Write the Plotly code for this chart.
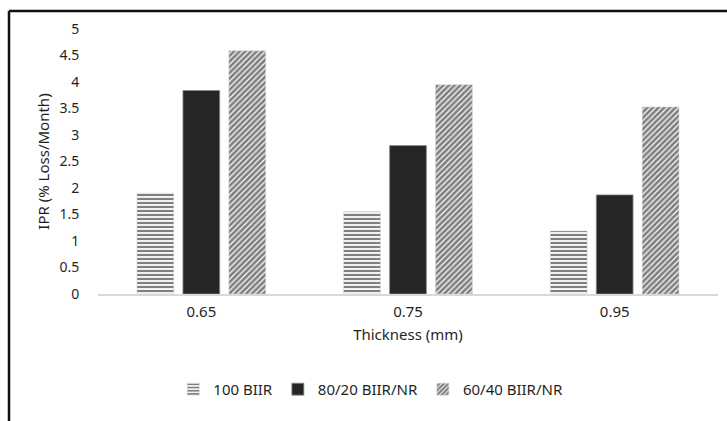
import plotly.graph_objects as go

categories = ["0.65", "0.75", "0.95"]
series_names = ["100 BIIR", "80/20 BIIR/NR", "60/40 BIIR/NR"]
biir100 = [1.90, 1.55, 1.19]
biir80_nr20 = [3.84, 2.80, 1.87]
biir60_nr40 = [4.59, 3.95, 3.53]
y_ticks = [0, 0.5, 1, 1.5, 2, 2.5, 3, 3.5, 4, 4.5, 5]
y_tick_labels = ["0", "0.5", "1", "1.5", "2", "2.5", "3", "3.5", "4", "4.5", "5"]

FONT = "Noto Sans, Open Sans, sans-serif"
TXT = "#1f1f1f"

W, H = 727, 421
L, R, T, B = 98, 9, 29, 127
PW, PH = W - L - R, H - T - B

fig = go.Figure()
fig.add_trace(go.Bar(
    name=series_names[0], x=categories, y=biir100,
    marker=dict(color="white", line=dict(color="#d0d0d0", width=0.5),
                pattern=dict(shape="-", fgcolor="black", bgcolor="white", size=4, solidity=0.55)),
))
fig.add_trace(go.Bar(
    name=series_names[1], x=categories, y=biir80_nr20,
    marker=dict(color="#262626", line=dict(color="#8c8c8c", width=0.8)),
))
fig.add_trace(go.Bar(
    name=series_names[2], x=categories, y=biir60_nr40,
    marker=dict(color="white", line=dict(color="#d0d0d0", width=0.5),
                pattern=dict(shape="/", fgcolor="black", bgcolor="white", size=4, solidity=0.7)),
))

top_y = 1 + (T - 11) / PH
left_x = (9 - L) / PW

fig.update_layout(
    width=W, height=H,
    margin=dict(l=L, r=R, t=T, b=B, autoexpand=False),
    paper_bgcolor="white", plot_bgcolor="white",
    barmode="group", bargap=0.333, bargroupgap=0.2,
    font=dict(family=FONT, color=TXT, size=15),
    showlegend=True,
    legend=dict(orientation="h", x=0.44, xanchor="center", y=-0.36, yanchor="middle",
                font=dict(size=15, color=TXT), itemwidth=30, traceorder="normal"),
    xaxis=dict(
        type="category", showgrid=False, showline=True, linecolor="#d9d9d9", linewidth=1.5,
        ticks="outside", ticklen=3, tickcolor="rgba(0,0,0,0)",
        tickfont=dict(size=15, color=TXT),
        title=dict(text="Thickness (mm)", font=dict(size=15, color=TXT), standoff=10),
    ),
    yaxis=dict(
        range=[0, 5], tickvals=y_ticks, ticktext=y_tick_labels,
        showgrid=False, showline=False, zeroline=False,
        ticks="outside", ticklen=15, tickcolor="rgba(0,0,0,0)",
        tickfont=dict(size=14, color=TXT),
        title=dict(text="IPR (% Loss/Month)", font=dict(size=15, color=TXT), standoff=6),
    ),
    shapes=[
        dict(type="line", xref="paper", yref="paper", layer="above",
             x0=left_x, x1=left_x, y0=-(B + 5) / PH, y1=top_y,
             line=dict(color="#111111", width=2.5)),
        dict(type="line", xref="paper", yref="paper", layer="above",
             x0=left_x, x1=1 + (R + 5) / PW, y0=top_y, y1=top_y,
             line=dict(color="#111111", width=2.5)),
    ],
)

fig.write_html(
    "out.html",
    config={"displayModeBar": False},
    post_script="document.body.style.margin='0';document.body.style.overflow='hidden';",
)
